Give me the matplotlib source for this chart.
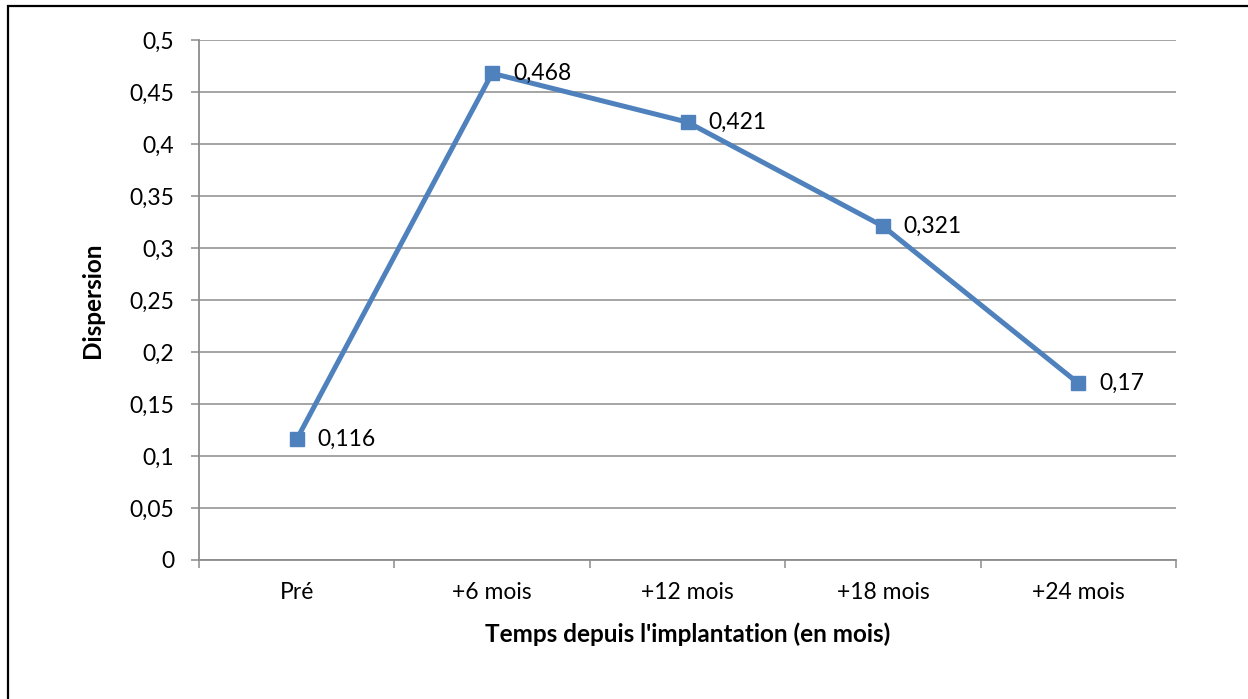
import matplotlib.pyplot as plt
from matplotlib.patches import Rectangle
import numpy as np

plt.rcParams['font.family'] = ['Lato', 'DejaVu Sans']

categories = ['Pré', '+6 mois', '+12 mois', '+18 mois', '+24 mois']
dispersion = [0.116, 0.468, 0.421, 0.321, 0.17]
value_labels = ['0,116', '0,468', '0,421', '0,321', '0,17']

lineBlue = '#4F81BD'
gridGrey = '#8C8C8C'
labelSize = 16.5
tickSize = 16.5
titleSize = 17.5

if __name__ == "__main__":
    fig = plt.figure(figsize=(12.48, 6.99), dpi=100)
    ax = fig.add_axes([199/1248, 1 - 560/699, (1176-199)/1248, (560-40)/699])

    # outer chart frame (cut off on right and bottom, like the reference)
    fig.patches.append(Rectangle((8/1248, -0.05), 1.2, 1 - 6/699 + 0.05,
                                 transform=fig.transFigure, fill=False,
                                 edgecolor='black', linewidth=1.6))

    x = np.arange(len(categories))
    ax.plot(x, dispersion, color=lineBlue, linewidth=3.6, marker='s',
            markersize=10.5, markerfacecolor=lineBlue, markeredgecolor=lineBlue,
            zorder=3)
    for xi, yi, lab in zip(x, dispersion, value_labels):
        ax.annotate(lab, (xi, yi), xytext=(15, 0), textcoords='offset points',
                    ha='left', va='center', fontsize=labelSize, zorder=4)

    ax.set_xlim(-0.5, len(categories) - 0.5)
    ax.set_ylim(0, 0.5)

    yticks = np.arange(0, 0.501, 0.05)
    ax.set_yticks(yticks)
    ax.set_yticklabels([f"{v:g}".replace('.', ',') for v in np.round(yticks, 2)],
                       fontsize=tickSize)
    ax.set_xticks(x)
    ax.set_xticklabels(categories, fontsize=tickSize)
    ax.set_xticks(np.arange(-0.5, len(categories)), minor=True)

    ax.tick_params(axis='y', which='major', length=6, width=1.1, color=gridGrey, pad=12)
    ax.tick_params(axis='x', which='major', length=0, pad=16)
    ax.tick_params(axis='x', which='minor', length=6, width=1.1, color=gridGrey)

    ax.grid(axis='y', color=gridGrey, linewidth=1.1)
    ax.set_axisbelow(True)
    for side in ['top', 'right']:
        ax.spines[side].set_visible(False)
    for side in ['left', 'bottom']:
        ax.spines[side].set_color(gridGrey)
        ax.spines[side].set_linewidth(1.3)

    ax.set_xlabel("Temps depuis l'implantation (en mois)", fontsize=titleSize,
                  fontweight='bold', labelpad=14)
    ax.set_ylabel('Dispersion', fontsize=titleSize, fontweight='bold', labelpad=18)

    plt.savefig("out.png", dpi=100)
